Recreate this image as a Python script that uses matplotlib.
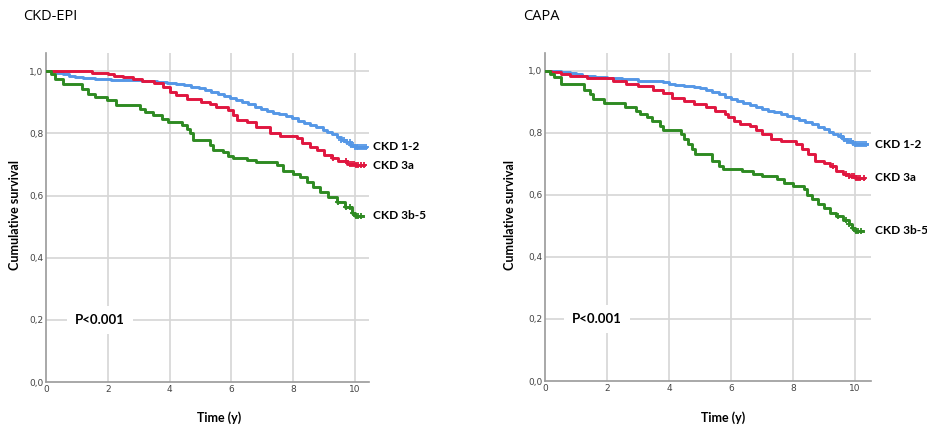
import matplotlib
matplotlib.use("Agg")
import matplotlib.pyplot as plt
import numpy as np

# Kaplan-Meier step data (time in years, survival)
epi_12_t = [0, 0.35, 0.55, 0.75, 0.95, 1.2, 1.6, 2.1, 2.6, 3.1, 3.6, 3.9, 4.2, 4.45, 4.7,
            4.95, 5.15, 5.35, 5.55, 5.75, 5.95, 6.15, 6.35, 6.55, 6.75, 6.95, 7.15, 7.35, 7.55,
            7.75, 7.95, 8.15, 8.35, 8.55, 8.75, 8.95, 9.1, 9.25, 9.4, 9.55, 9.7, 9.85, 10.0, 10.35]
epi_12_s = [1.0, 0.995, 0.99, 0.986, 0.982, 0.978, 0.975, 0.972, 0.97, 0.967, 0.964, 0.961, 0.958,
            0.954, 0.95, 0.945, 0.94, 0.934, 0.928, 0.921, 0.914, 0.907, 0.9, 0.893, 0.886, 0.879,
            0.873, 0.867, 0.861, 0.855, 0.848, 0.841, 0.834, 0.827, 0.82, 0.812, 0.805, 0.797,
            0.789, 0.78, 0.771, 0.763, 0.757, 0.757]
epi_3a_t = [0, 1.5, 2.0, 2.2, 2.5, 2.8, 3.1, 3.5, 3.8, 4.0, 4.2, 4.55, 5.0, 5.3, 5.5, 5.9, 6.06,
            6.17, 6.5, 6.8, 7.25, 7.57, 8.11, 8.27, 8.54, 8.76, 8.98, 9.24, 9.46, 9.73, 10.0, 10.3]
epi_3a_s = [1.0, 0.995, 0.99, 0.985, 0.98, 0.975, 0.968, 0.962, 0.948, 0.932, 0.922, 0.91, 0.9,
            0.895, 0.885, 0.875, 0.858, 0.842, 0.837, 0.82, 0.80, 0.79, 0.784, 0.768, 0.757, 0.746,
            0.729, 0.72, 0.71, 0.702, 0.698, 0.698]
epi_3b_t = [0, 0.15, 0.3, 0.56, 1.15, 1.37, 1.58, 1.96, 2.27, 3.04, 3.2, 3.47, 3.74, 3.96, 4.39,
            4.55, 4.66, 4.77, 5.3, 5.4, 5.74, 5.9, 6.06, 6.5, 6.8, 7.46, 7.68, 8.0, 8.22, 8.44,
            8.65, 8.87, 9.14, 9.4, 9.68, 9.9, 10.0, 10.27]
epi_3b_s = [1.0, 0.99, 0.975, 0.959, 0.944, 0.928, 0.917, 0.906, 0.89, 0.879, 0.869, 0.858, 0.847,
            0.836, 0.826, 0.815, 0.8, 0.777, 0.764, 0.748, 0.739, 0.726, 0.72, 0.715, 0.707, 0.697,
            0.68, 0.67, 0.66, 0.642, 0.626, 0.61, 0.594, 0.578, 0.562, 0.545, 0.535, 0.535]

capa_12_t = [0, 0.5, 0.8, 1.0, 1.2, 1.6, 2.0, 2.5, 3.0, 3.5, 3.8, 4.0, 4.2, 4.5, 4.8, 5.0, 5.2,
             5.4, 5.6, 5.8, 6.0, 6.2, 6.4, 6.6, 6.8, 7.0, 7.2, 7.4, 7.6, 7.8, 8.0, 8.2, 8.4, 8.6,
             8.8, 9.0, 9.15, 9.3, 9.45, 9.6, 9.75, 9.9, 10.0, 10.4]
capa_12_s = [1.0, 0.997, 0.993, 0.989, 0.985, 0.981, 0.978, 0.973, 0.969, 0.966, 0.963, 0.959,
             0.956, 0.952, 0.948, 0.944, 0.938, 0.931, 0.924, 0.917, 0.91, 0.903, 0.896, 0.889,
             0.883, 0.878, 0.872, 0.867, 0.861, 0.855, 0.849, 0.842, 0.835, 0.828, 0.82, 0.812,
             0.804, 0.797, 0.789, 0.781, 0.773, 0.766, 0.763, 0.763]
capa_3a_t = [0, 0.2, 0.5, 0.8, 1.35, 2.2, 2.6, 3.0, 3.5, 3.8, 4.1, 4.5, 4.8, 5.2, 5.5, 5.8, 5.9,
             6.1, 6.3, 6.6, 6.8, 7.0, 7.3, 7.6, 8.1, 8.3, 8.5, 8.7, 9.0, 9.2, 9.4, 9.6, 9.8, 10.0, 10.3]
capa_3a_s = [1.0, 0.995, 0.99, 0.985, 0.978, 0.968, 0.957, 0.952, 0.94, 0.93, 0.914, 0.903, 0.892,
             0.882, 0.871, 0.86, 0.85, 0.839, 0.83, 0.823, 0.808, 0.796, 0.78, 0.774, 0.763, 0.747,
             0.731, 0.71, 0.704, 0.694, 0.677, 0.667, 0.661, 0.656, 0.656]
capa_3b_t = [0, 0.15, 0.3, 0.5, 1.25, 1.45, 1.55, 1.9, 2.58, 2.95, 3.05, 3.3, 3.45, 3.7, 3.8, 4.4,
             4.5, 4.6, 4.75, 4.85, 5.4, 5.6, 5.75, 6.35, 6.7, 7.0, 7.5, 7.7, 8.0, 8.35, 8.45, 8.6,
             8.8, 9.0, 9.2, 9.4, 9.6, 9.8, 9.9, 10.0, 10.25]
capa_3b_s = [1.0, 0.99, 0.98, 0.957, 0.94, 0.925, 0.909, 0.895, 0.882, 0.871, 0.86, 0.85, 0.84,
             0.823, 0.81, 0.796, 0.78, 0.763, 0.747, 0.731, 0.71, 0.694, 0.684, 0.677, 0.669, 0.66,
             0.65, 0.64, 0.629, 0.618, 0.6, 0.586, 0.57, 0.559, 0.543, 0.532, 0.52, 0.505, 0.495,
             0.484, 0.484]

# censoring times (the "+" marks)
cens_12 = [9.55, 9.65, 9.75, 9.82, 9.88, 9.94, 10.0, 10.05, 10.1, 10.15, 10.22, 10.3, 10.36]
cens_3a = [9.3, 9.72, 9.82, 9.9, 9.97, 10.03, 10.1, 10.18, 10.28]
cens_3b = [9.45, 9.7, 9.82, 9.93, 10.02, 10.1, 10.2]

group_names = ["CKD 1-2", "CKD 3a", "CKD 3b-5"]
colors = ["#5597E6", "#E0163F", "#2E8A22"]

panels = [
    ("CKD-EPI", [(epi_12_t, epi_12_s), (epi_3a_t, epi_3a_s), (epi_3b_t, epi_3b_s)]),
    ("CAPA", [(capa_12_t, capa_12_s), (capa_3a_t, capa_3a_s), (capa_3b_t, capa_3b_s)]),
]
censors = [cens_12, cens_3a, cens_3b]
x_ticks = [0, 2, 4, 6, 8, 10]
y_ticks = [0.0, 0.2, 0.4, 0.6, 0.8, 1.0]

fig = plt.figure(figsize=(9.28, 4.25), dpi=100)

# axes boxes in figure fractions: left, bottom, width, height
boxes = [[0.0496, 0.101, 0.348, 0.774], [0.5873, 0.1035, 0.3513, 0.772]]
title_x = [0.025, 0.5635]
ylab_x = [0.016, 0.5495]
xlab_x = [0.236, 0.779]
xlim_max = [10.45, 10.52]
p_x = [1.75, 1.68]
lab_font = "Lato"

for i, (title, curves) in enumerate(panels):
    ax = fig.add_axes(boxes[i])
    for j, (t, s) in enumerate(curves):
        ax.plot(t, s, drawstyle="steps-post", color=colors[j], lw=2.1, zorder=3)
        # censor marks sit on the step curve
        t_arr = np.array(t)
        s_arr = np.array(s)
        idx = np.searchsorted(t_arr, censors[j], side="right") - 1
        ax.plot(censors[j], s_arr[idx], ls="none", marker="+", ms=5, mew=1.3,
                color=colors[j], zorder=4)
        # group label right of the curve end
        ax.text(xlim_max[i] + 0.13, s[-1], group_names[j], fontsize=8.6, fontweight="bold",
                family=lab_font, va="center", ha="left", clip_on=False)

    ax.set_xlim(0, xlim_max[i])
    ax.set_ylim(0, 1.058)
    ax.set_xticks(x_ticks)
    ax.set_yticks(y_ticks)
    ax.set_yticklabels([f"{v:.1f}".replace(".", ",") for v in y_ticks])
    ax.tick_params(length=0, labelsize=6.5, labelcolor="#444444", pad=2)
    for v in x_ticks[1:]:
        ax.axvline(v, color="#d6d6d6", lw=1.2, zorder=1)
    for v in y_ticks[1:]:
        ax.axhline(v, color="#d6d6d6", lw=1.2, zorder=1)
    for side in ["top", "right"]:
        ax.spines[side].set_visible(False)
    for side in ["left", "bottom"]:
        ax.spines[side].set_color("#9a9a9a")
        ax.spines[side].set_linewidth(1.2)

    ax.text(p_x[i], 0.2, "P<0.001", fontsize=9.5, fontweight="bold", family=lab_font,
            ha="center", va="center", zorder=5,
            bbox=dict(facecolor="white", edgecolor="none", pad=6))

    fig.text(xlab_x[i], 0.018, "Time (y)", fontsize=9, fontweight="bold", family=lab_font,
             ha="center", va="center")
    fig.text(ylab_x[i], 0.494, "Cumulative survival", rotation=90, fontsize=9,
             fontweight="bold", family=lab_font, ha="center", va="center")
    fig.text(title_x[i], 0.96, title, fontsize=10.5, family="Open Sans", ha="left", va="center")

fig.savefig("out.png", dpi=100)
